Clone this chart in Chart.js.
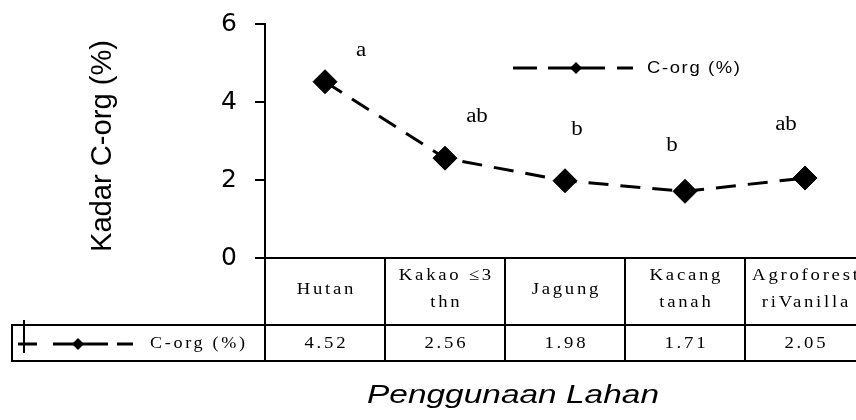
<!DOCTYPE html>
<html>
<head>
<meta charset="utf-8">
<script src="https://cdn.jsdelivr.net/npm/chart.js@4.4.1/dist/chart.umd.min.js"></script>
<style>
  html, body { margin: 0; padding: 0; background: #fff; overflow: hidden; width: 856px; height: 420px; }
  canvas { display: block; }
</style>
</head>
<body>
<canvas id="c" width="878" height="420"></canvas>
<script>
// ---- data ----
const categories = [["Hutan"], ["Kakao ≤3", "thn"], ["Jagung"], ["Kacang", "tanah"], ["Agroforest", "riVanilla"]];
const seriesName = "C-org (%)";
const corgValues = [4.52, 2.56, 1.98, 1.71, 2.05];
const tableValues = ["4.52", "2.56", "1.98", "1.71", "2.05"];
const significanceLetters = ["a", "ab", "b", "b", "ab"];
const yTickValues = [0, 2, 4, 6];
const yTitle = "Kadar C-org (%)";
const xTitle = "Penggunaan Lahan";

// ---- layout / style (not data) ----
const letterOffsets = [[36, -31], [32, -41], [12, -51], [-13, -46], [-19, -53]];

function drawText(ctx, s, x, y, o) {
  ctx.save();
  ctx.translate(x, y);
  if (o.rot) ctx.rotate(o.rot);
  ctx.font = o.font;
  if ('letterSpacing' in ctx) ctx.letterSpacing = (o.ls || 0) + 'px';
  ctx.textBaseline = o.base || 'middle';
  ctx.textAlign = 'left';
  let w = ctx.measureText(s).width;
  if (o.ls) w -= o.ls;
  let sx = o.sx || 1;
  if (o.fit) sx = o.fit / w;
  ctx.scale(sx, o.sy || 1);
  const align = o.align || 'center';
  const x0 = align === 'center' ? -w / 2 : (align === 'right' ? -w : 0);
  ctx.fillStyle = '#000';
  ctx.fillText(s, x0, 0);
  ctx.restore();
}

function diamond(ctx, x, y, r) {
  ctx.beginPath();
  ctx.moveTo(x - r, y); ctx.lineTo(x, y - r); ctx.lineTo(x + r, y); ctx.lineTo(x, y + r);
  ctx.closePath();
  ctx.fillStyle = '#000';
  ctx.fill();
}

function legendKey(ctx, segs, dx, y) {
  ctx.save();
  ctx.strokeStyle = '#000'; ctx.lineWidth = 3; ctx.setLineDash([]);
  segs.forEach(([a, b]) => { ctx.beginPath(); ctx.moveTo(a, y); ctx.lineTo(b, y); ctx.stroke(); });
  diamond(ctx, dx, y, 6);
  ctx.restore();
}

const extras = {
  id: 'extras',
  afterDraw(chart) {
    const ctx = chart.ctx, xs = chart.scales.x, ys = chart.scales.y, a = chart.chartArea;
    const colW = xs.getPixelForValue(1) - xs.getPixelForValue(0);
    const row1Bottom = a.bottom + 67, row2Bottom = a.bottom + 103;
    const tableLeft = 12, W = chart.width;
    ctx.save();
    ctx.strokeStyle = '#000'; ctx.lineWidth = 2; ctx.setLineDash([]);
    const line = (x1, y1, x2, y2) => { ctx.beginPath(); ctx.moveTo(x1, y1); ctx.lineTo(x2, y2); ctx.stroke(); };
    line(a.left, a.bottom, a.left, row2Bottom + 1);
    categories.forEach((c, i) => {
      const xr = xs.getPixelForValue(i) + colW / 2;
      line(xr, a.bottom, xr, row2Bottom + 1);
    });
    line(tableLeft - 1, row1Bottom, W, row1Bottom);
    line(tableLeft - 1, row2Bottom, W, row2Bottom);
    line(tableLeft, row1Bottom, tableLeft, row2Bottom);
    // small cross mark in legend cell
    line(24, row1Bottom - 5, 24, row2Bottom - 8);
    ctx.restore();

    const serif = "17px 'Liberation Serif'";
    const tOpts = { font: serif, ls: 2.5, sx: 1.1 };
    categories.forEach((lines, i) => {
      const cx = xs.getPixelForValue(i);
      const mid = (a.bottom + row1Bottom) / 2 - 2;
      if (lines.length === 1) drawText(ctx, lines[0], cx, mid, tOpts);
      else {
        drawText(ctx, lines[0], cx, mid - 14, tOpts);
        drawText(ctx, lines[1], cx, mid + 13, tOpts);
      }
      drawText(ctx, tableValues[i], cx, (row1Bottom + row2Bottom) / 2 + 1, tOpts);
    });
    // table legend cell
    const ly = (row1Bottom + row2Bottom) / 2 + 1;
    legendKey(ctx, [[18, 37], [53, 108], [117, 133]], 78, ly);
    drawText(ctx, seriesName, 150, ly, { font: serif, ls: 2.5, fit: 95, align: 'left' });

    // in-plot legend
    legendKey(ctx, [[513, 537], [548, 605], [617, 633]], 576, 68);
    drawText(ctx, seriesName, 647, 68, { font: "17px 'Liberation Sans'", ls: 1.5, fit: 93, align: 'left' });

    // significance letters
    significanceLetters.forEach((t, i) => {
      const px = xs.getPixelForValue(i), py = ys.getPixelForValue(corgValues[i]);
      drawText(ctx, t, px + letterOffsets[i][0], py + letterOffsets[i][1], { font: "20px 'Liberation Serif'", sx: 1.15 });
    });

    // axis titles
    drawText(ctx, yTitle, 103, 146, { font: "29px 'Liberation Sans'", rot: -Math.PI / 2, fit: 212 });
    drawText(ctx, xTitle, 513, 403, { font: "italic 25px 'Liberation Sans'", base: 'alphabetic', fit: 292 });
  }
};

new Chart(document.getElementById('c'), {
  type: 'line',
  data: {
    labels: categories.map(c => c.join(' ')),
    datasets: [{
      label: seriesName,
      data: corgValues,
      borderColor: '#000',
      borderWidth: 3,
      borderDash: [20, 12],
      tension: 0,
      fill: false,
      pointStyle: 'rectRot',
      pointRadius: 12,
      pointHoverRadius: 12,
      pointBackgroundColor: '#000',
      pointBorderColor: '#000',
      pointBorderWidth: 1
    }]
  },
  options: {
    responsive: false,
    animation: false,
    events: [],
    layout: { padding: { top: 24, bottom: 162, left: 0, right: 1 } },
    plugins: { legend: { display: false }, tooltip: { enabled: false } },
    scales: {
      x: {
        type: 'category',
        offset: true,
        grid: { display: false, drawTicks: false },
        border: { display: true, color: '#000', width: 2 },
        ticks: { display: false }
      },
      y: {
        min: 0, max: 6,
        afterBuildTicks: s => { s.ticks = yTickValues.map(v => ({ value: v })); },
        afterFit: s => { s.width = 265; s.paddingTop = 0; s.paddingBottom = 0; },
        grid: { display: true, drawOnChartArea: false, drawTicks: true, tickLength: 10, color: '#000', lineWidth: 2 },
        border: { display: true, color: '#000', width: 2 },
        ticks: { color: '#000', padding: 18, font: { family: "'DejaVu Sans'", size: 25 } }
      }
    }
  },
  plugins: [extras]
});
</script>
</body>
</html>
